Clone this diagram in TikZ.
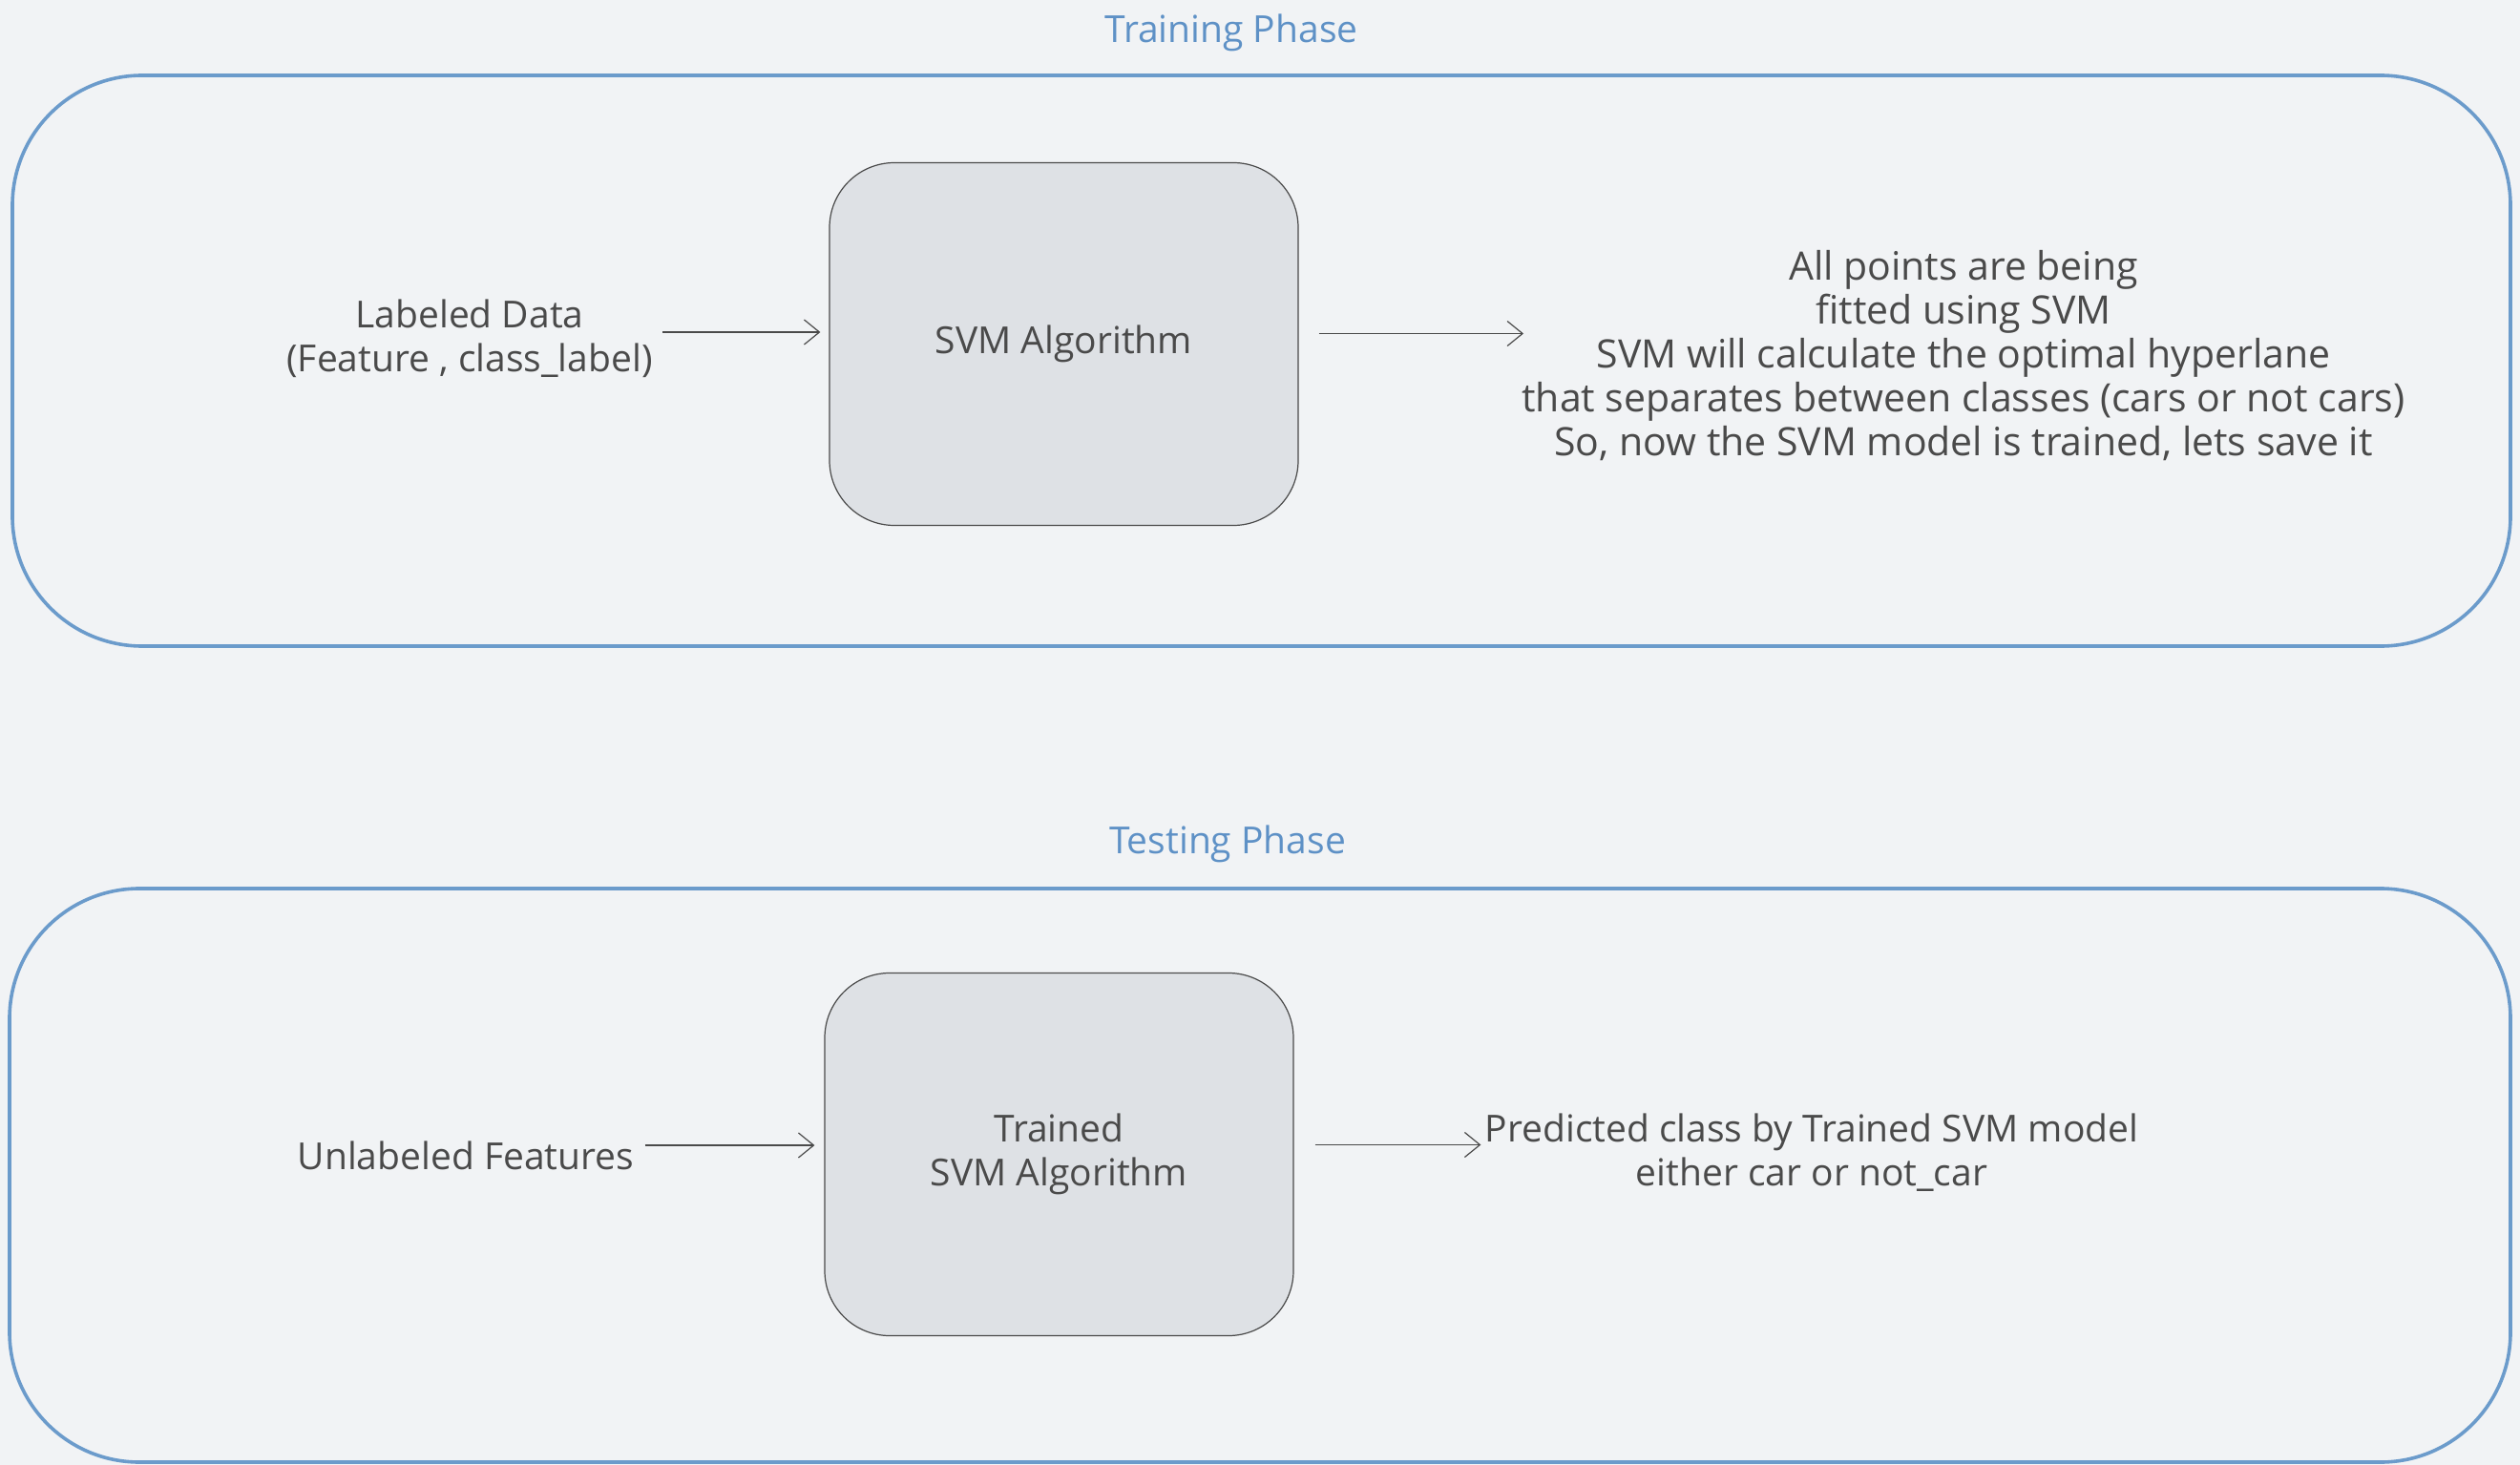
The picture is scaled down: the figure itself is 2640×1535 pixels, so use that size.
\documentclass[tikz,border=0pt]{standalone}
\usepackage{fontspec}
\setmainfont{Open Sans}
\usetikzlibrary{arrows.meta}
\definecolor{bg}{HTML}{F1F3F5}
\definecolor{ink}{HTML}{4A4A4A}
\definecolor{frame}{HTML}{6B9BCB}
\definecolor{titleblue}{HTML}{5E91C6}
\definecolor{boxfill}{HTML}{DEE1E5}
\begin{document}
\begin{tikzpicture}[x=0.5pt,y=-0.5pt,
 txt/.style={text=ink, font=\fontsize{19.5}{23}\selectfont, align=center, inner sep=0pt},
 phasetitle/.style={text=titleblue, font=\fontsize{19.5}{23}\selectfont, inner sep=0pt},
 container/.style={draw=frame, line width=1.8pt, rounded corners=68pt, inner sep=0pt},
 algbox/.style={draw=ink, fill=boxfill, line width=0.6pt, rounded corners=34pt, inner sep=0pt, minimum width=245.5pt, minimum height=190pt, txt},
 arr/.style={draw=ink, line width=0.6pt, -{Straight Barb[length=8pt,width=13pt]}}]
\path[use as bounding box, fill=bg] (0,0) rectangle (2640,1535);

% Training phase
\node[container, minimum width=1308.5pt, minimum height=299pt] (train) at (1321.5,378) {};
\node[phasetitle] (traint) at (1290,34) {Training Phase};
\node[algbox] (svm) at (1114.5,360.5) {SVM Algorithm};
\node[txt] (lab) at (492,355) {Labeled Data\\(Feature , class\_label)};
\node[txt, font=\fontsize{20.5}{23}\selectfont] (fit) at (2057,373) {All points are being\\fitted using SVM\\SVM will calculate the optimal hyperlane\\that separates between classes (cars or not cars)\\So, now the SVM model is trained, lets save it};
\draw[arr, shorten <=5pt, shorten >=4.5pt] ([yshift=3.5pt]lab.east) -- ([yshift=3.5pt]lab.east -| svm.west);
\draw[arr, shorten <=10.5pt, shorten >=-1pt] ([yshift=5.5pt]svm.east) -- ([yshift=5.5pt]svm.east -| fit.west);

% Testing phase
\node[container, minimum width=1310pt, minimum height=300.5pt] (test) at (1320,1231.5) {};
\node[phasetitle] (testt) at (1286,884) {Testing Phase};
\node[algbox] (tsvm) at (1109.5,1209.5) {Trained\\SVM Algorithm};
\node[txt] (unl) at (488,1211) {Unlabeled Features};
\node[txt] (pred) at (1898,1208) {Predicted class by Trained SVM model\\either car or not\_car};
\draw[arr, shorten <=5.5pt, shorten >=5pt] ([yshift=5.5pt]unl.east) -- ([yshift=5.5pt]unl.east -| tsvm.west);
\draw[arr, shorten <=11pt, shorten >=2pt] ([yshift=5pt]tsvm.east) -- ([yshift=5pt]tsvm.east -| pred.west);
\end{tikzpicture}
\end{document}
